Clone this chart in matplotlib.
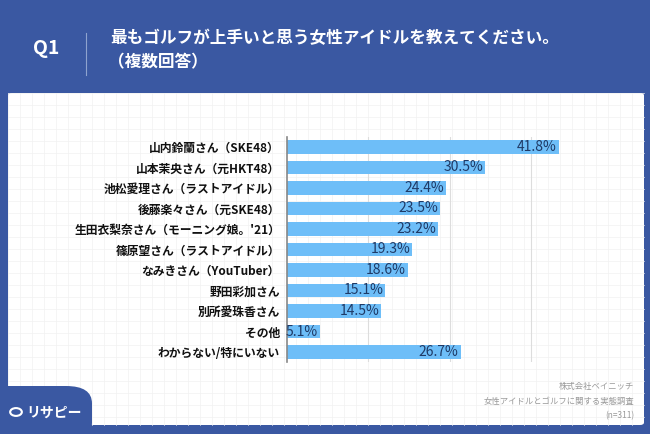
import matplotlib
matplotlib.use("Agg")
import matplotlib.pyplot as plt
from matplotlib.patches import FancyBboxPatch, Circle
from matplotlib.lines import Line2D

plt.rcParams['font.family'] = ['Noto Sans CJK JP', 'DejaVu Sans']

labels = ["山内鈴蘭さん（SKE48）", "山本茉央さん（元HKT48）", "池松愛理さん（ラストアイドル）",
          "後藤楽々さん（元SKE48）", "生田衣梨奈さん（モーニング娘。'21）", "篠原望さん（ラストアイドル）",
          "なみきさん（YouTuber）", "野田彩加さん", "別所愛珠香さん", "その他", "わからない/特にいない"]
values = [41.8, 30.5, 24.4, 23.5, 23.2, 19.3, 18.6, 15.1, 14.5, 5.1, 26.7]

W, H = 650, 434
fig = plt.figure(figsize=(6.5, 4.34), dpi=100)
fig.patch.set_facecolor('#3A58A2')

def fx(x): return x / W
def fy(y): return 1 - y / H

panel = FancyBboxPatch((fx(8), fy(425)), fx(636), fy(93) - fy(425),
                       boxstyle="round,pad=0,rounding_size=0.006", transform=fig.transFigure,
                       facecolor='white', edgecolor='none', zorder=0)
fig.patches.append(panel)
for gx in range(8, 644, 12):
    fig.lines.append(Line2D([fx(gx)] * 2, [fy(425), fy(93)], transform=fig.transFigure,
                            color='#F1F1F1', lw=0.5, zorder=0.5))
for gy in range(93, 425, 12):
    fig.lines.append(Line2D([fx(8), fx(644)], [fy(gy)] * 2, transform=fig.transFigure,
                            color='#F1F1F1', lw=0.5, zorder=0.5))

fig.text(fx(46), fy(48), "Q1", color='white', fontsize=14, fontweight='bold', ha='center', va='center')
fig.lines.append(Line2D([fx(86)] * 2, [fy(33), fy(75)], transform=fig.transFigure, color='#8FA3CF', lw=0.8))
fig.text(fx(110), fy(38), "最もゴルフが上手いと思う女性アイドルを教えてください。", color='white',
         fontsize=12, fontweight='bold', ha='left', va='center')
fig.text(fx(108), fy(62), "（複数回答）", color='white', fontsize=12, fontweight='bold', ha='left', va='center')

ax = fig.add_axes([fx(287), fy(362.25), fx(325), fy(136.75) - fy(362.25)])
ax.set_zorder(3)
ax.set_facecolor('none')
y = list(range(len(values)))
ax.barh(y, values, height=0.68, color='#6EBEF8', zorder=2)
ax.set_ylim(len(values) - 0.5, -0.5)
ax.set_xlim(0, 50)
for v in [12.5, 25, 37.5]:
    ax.axvline(v, color='#DDDDDD', lw=0.8, zorder=1)
for i, v in enumerate(values):
    ax.text(v - 0.3, i, f"{v}%", ha='right', va='center', color='#1F3A66', fontsize=10, zorder=3)
ax.set_yticks(y)
ax.set_yticklabels(labels, fontsize=8.5, fontweight='bold', color='#111111')
ax.set_xticks([])
ax.tick_params(axis='y', length=0, pad=5)
for s in ['top', 'right', 'bottom']:
    ax.spines[s].set_visible(False)
ax.spines['left'].set_color('#888888')
ax.spines['left'].set_linewidth(1.2)

for t, yy in [("株式会社ベイニッチ", 386), ("女性アイドルとゴルフに関する実態調査", 401), ("(n=311)", 416)]:
    fig.text(fx(634), fy(yy), t, color='#999999', fontsize=6, ha='right', va='center')

tab = FancyBboxPatch((fx(-20), fy(440)), fx(112), fy(386) - fy(440),
                     boxstyle="round,pad=0,rounding_size=0.04", transform=fig.transFigure,
                     facecolor='#3A58A2', edgecolor='none', zorder=1)
fig.patches.append(tab)
fig.patches.append(Circle((fx(16), fy(412)), 0.009, transform=fig.transFigure, facecolor='none',
                          edgecolor='white', lw=1.5, zorder=2))
fig.text(fx(26), fy(413), "リサピー", color='white', fontsize=10, fontweight='bold', ha='left', va='center')

fig.savefig("out.png", dpi=100, facecolor=fig.get_facecolor())
